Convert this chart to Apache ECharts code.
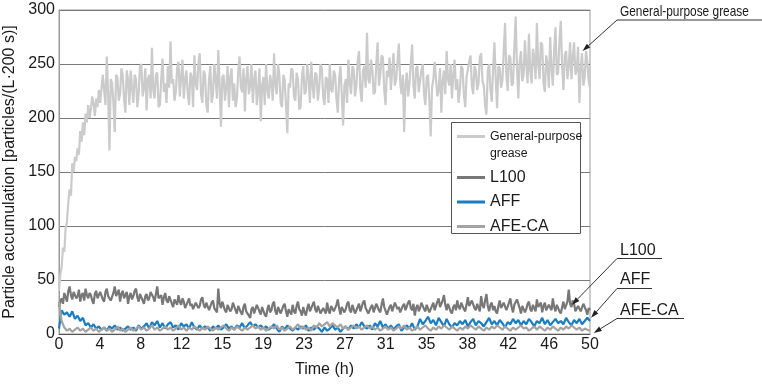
<!DOCTYPE html>
<html><head><meta charset="utf-8">
<script src="https://cdn.jsdelivr.net/npm/echarts@6/dist/echarts.min.js"></script>
<style>html,body{margin:0;padding:0;background:#fff}#c{width:762px;height:386px}</style>
</head><body><div id="c"></div>
<script>
// Sampling steps of the recorded series (hours)
const denseStep = 0.125;   // grease, L100
const coarseStep = 0.25;   // AFF, AFE-CA
const seriesNames = ['General-purpose grease', 'L100', 'AFF', 'AFE-CA'];
const yTicks = [0, 50, 100, 150, 200, 250, 300];

const greaseVals = [
40,55,62,80,76,98,104,122, 134,128,158,150,164,160,172,166,
188,178,196,184,204,196,212,200, 208,220,214,202,218,210,226,214,
215,240,226,212,257,222,170,236, 232,214,187,240,238,216,222,246,
240,218,205,244,236,212,244,228, 214,240,236,210,222,248,250,220,
228,246,207,236,240,218,265,226, 218,240,242,210,212,236,255,224,
232,214,248,228,271,232,236,216, 224,246,252,220,238,254,218,236,
244,222,212,242,238,210,258,232, 226,250,260,222,214,244,240,212,
205,236,248,214,222,250,236,218, 263,230,192,238,240,216,228,248,
210,238,246,216,232,210,218,242, 257,228,224,246,206,236,248,222,
230,250,214,236,244,212,225,246, 197,230,238,212,250,226,218,240,
232,216,260,230,222,250,240,214, 210,240,235,212,186,232,228,246,
244,220,216,242,236,208,210,238, 248,222,225,250,238,214,252,230,
218,242,240,216,228,250,246,220, 212,238,236,214,250,226,224,244,
240,218,205,236,248,222,193,230, 236,214,254,232,222,248,245,220,
230,252,262,226,215,244,248,228, 279,236,232,254,246,222,224,250,
270,230,240,258,256,226,212,244, 238,256,226,244,260,230,236,252,
269,234,222,240,187,232,242,220, 232,250,268,230,218,246,248,224,
225,244,250,222,212,238,240,216, 183,228,236,252,252,220,226,246,
205,234,244,222,262,236,230,250, 218,240,254,226,236,214,226,248,
246,222,210,238,238,252,258,230, 222,248,244,226,232,256,260,234,
230,212,203,244,250,226,215,246, 270,236,209,248,246,228,235,262,
288,240,225,258,256,230,232,266, 294,246,218,252,262,234,240,272,
250,232,278,244,232,264,256,236, 288,250,236,270,268,232,224,258,
250,228,275,246,230,262,284,240, 242,272,290,248,226,258,262,236,
248,270,236,256,270,240,244,266, 214,246,260,230,238,262,252,234,
228];

const l100Vals = [
25,30,33,28,38,34,30,40, 44,36,32,39,40,33,35,41,
30,36,38,31,42,36,33,38, 36,31,28,37,40,33,34,39,
38,32,30,39,42,35,35,31, 32,38,44,35,36,41,30,37,
40,33,34,39,28,35,38,32, 35,40,42,34,30,37,36,31,
28,35,37,31,33,39,40,34, 30,37,44,33,32,36,27,34,
38,31,29,35,34,28,25,32, 32,27,36,30,27,33,30,24,
24,30,33,26,28,23,22,29, 30,24,26,32,34,27,24,29,
28,22,22,29,31,24,25,20, 42,28,24,30,29,22,20,27,
27,21,23,29,30,22,19,26, 26,20,18,25,28,21,22,17,
15,23,25,19,20,27,28,21, 18,25,24,18,16,23,27,20,
22,28,30,21,18,25,25,19, 20,26,28,21,16,23,24,18,
27,21,19,26,30,23,21,17, 25,20,17,24,28,21,22,27,
30,23,20,26,26,19,18,24, 24,19,29,22,19,26,27,21,
21,27,32,24,18,25,26,20, 23,28,30,22,20,27,27,19,
19,25,28,21,22,29,31,24, 24,19,18,25,27,20,21,28,
29,22,20,27,33,25,24,18, 18,25,27,21,22,29,30,23,
25,20,19,26,28,22,23,29, 31,24,22,28,17,24,27,21,
24,29,30,23,21,27,26,20, 20,26,29,22,23,30,33,25,
26,31,36,27,22,28,28,21, 19,25,27,22,31,25,23,29,
28,23,21,27,34,26,25,31, 30,24,22,28,27,21,35,27,
24,31,37,26,21,27,29,22, 26,21,19,26,31,24,24,29,
28,22,22,29,33,25,20,27, 27,32,31,24,19,26,25,20,
23,28,30,23,21,27,27,21, 32,25,24,29,20,26,29,22,
22,27,28,22,33,25,21,27, 26,21,19,25,30,23,24,30,
41,28,25,31,28,21,20,26, 27,21,22,28,29,22,18,24,
22];

const affVals = [
5,22,18,20, 16,21,14,17, 12,15,8,10, 6,9,5,7,
4,6,3,7, 5,8,4,6, 3,5,7,4, 6,3,8,5,
7,10,5,11, 8,12,6,10, 5,9,11,6, 8,4,10,7,
9,5,11,6, 4,8,5,7, 6,3,7,5, 8,4,6,9,
5,7,4,8, 6,10,5,8, 11,7,9,6, 8,5,7,4,
6,9,5,2, 7,4,8,5, 3,6,4,7, 5,8,3,6,
4,7,5,2, 6,3,5,8, 4,6,2,5, 7,4,8,5,
9,6,11,7, 5,8,4,10, 7,12,6,9, 5,8,4,7,
9,3,6,8, 5,10,4,7, 14,9,12,16, 10,13,8,15,
11,7,14,9, 6,10,8,12, 9,13,7,11, 14,8,12,10,
7,11,15,9, 12,8,13,10, 6,11,9,14, 10,13,8,12,
9,14,11,7, 12,10,15,9, 13,8,11,14, 10,12,9,15,
11,8,13,10, 14,9,12,15, 12];

const afecaVals = [
30,12,6,3, 5,2,4,6, 3,5,2,4, 6,3,5,2,
4,6,3,5, 2,4,7,3, 5,2,4,6, 3,5,7,4,
6,3,5,8, 4,6,3,5, 7,4,6,3, 5,8,4,6,
3,6,4,7, 5,3,6,4, 7,5,3,6, 4,6,8,5,
3,6,4,7, 5,3,6,4, 6,8,5,7, 4,6,3,5,
7,5,8,4, 6,3,5,7, 4,6,9,5, 7,4,6,3,
8,6,10,7, 9,11,7,10, 8,6,9,5, 7,4,6,8,
5,7,4,6, 8,5,7,4, 6,3,5,7, 4,6,3,5,
7,5,8,4, 6,3,5,7, 4,6,8,5, 3,6,4,7,
5,8,6,4, 7,5,3,6, 4,7,5,8, 6,4,7,5,
3,6,4,7, 5,8,6,4, 7,5,3,6, 4,6,8,5,
6,3,5,7, 4,7,5,3, 6,4,7,5, 3,6,4,7,
5,8,6,4, 6,3,5,4, 3];

// annotation labels and the data point each arrow points at [time, value]
const annotations = [
  {text: 'General-purpose grease', tip: [49.3, 262]},
  {text: 'L100', tip: [48.3, 27]},
  {text: 'AFF', tip: [50.1, 15]},
  {text: 'AFE-CA', tip: [50.35, 1]}
];

const colors = ['#cbcbcb', '#777777', '#1b7dc1', '#a3a3a3'];
const FONT = "'Liberation Sans', Arial, sans-serif";

function toPairs(vals, step) { return vals.map((v, i) => [i * step, v]); }
const allVals = [greaseVals, l100Vals, affVals, afecaVals];
const steps = [denseStep, denseStep, coarseStep, coarseStep];

const chart = echarts.init(document.getElementById('c'), null, {renderer: 'canvas'});
const option = {
  animation: false,
  backgroundColor: '#fff',
  textStyle: {fontFamily: FONT},
  grid: {left: 59, right: 172, top: 10, bottom: 52, show: true, borderColor: '#9a9a9a', borderWidth: 1,
         containLabel: false, outerBoundsMode: 'none'},
  xAxis: {
    type: 'value', min: 0, max: 50, interval: 50 / 13,
    name: 'Time (h)', nameLocation: 'middle', nameGap: 28,
    nameTextStyle: {fontSize: 16, color: '#1a1a1a', fontFamily: FONT},
    axisLine: {show: true, onZero: false, lineStyle: {color: '#555', width: 1}},
    axisTick: {show: false},
    axisLabel: {fontSize: 16, color: '#1a1a1a', margin: 3, formatter: v => String(Math.round(v)), fontFamily: FONT},
    splitLine: {show: false}
  },
  yAxis: {
    type: 'value', min: yTicks[0], max: yTicks[yTicks.length - 1], interval: yTicks[1] - yTicks[0],
    name: 'Particle accumulation [particles/(L\u00b7200 s)]', nameLocation: 'middle', nameGap: 37,
    nameTextStyle: {fontSize: 16, color: '#1a1a1a', fontFamily: FONT},
    axisLine: {show: true, lineStyle: {color: '#9a9a9a'}},
    axisTick: {show: false},
    axisLabel: {fontSize: 16, color: '#1a1a1a', margin: 4, fontFamily: FONT},
    splitLine: {show: true, lineStyle: {color: '#7a7a7a', width: 1}}
  },
  legend: {
    orient: 'vertical', left: 457, top: 111, padding: 0, itemGap: 6.5,
    itemWidth: 28, itemHeight: 3, icon: 'rect', itemStyle: {borderWidth: 0},
    z: 10,
    textStyle: {fontSize: 16, color: '#1a1a1a', fontFamily: FONT, lineHeight: 18},
    data: [
      {name: seriesNames[0], textStyle: {fontSize: 12.3, fontFamily: FONT, lineHeight: 17}},
      {name: seriesNames[1]}, {name: seriesNames[2]}, {name: seriesNames[3]}
    ],
    formatter: n => n === seriesNames[0] ? ' \nGeneral-purpose\ngrease' : n
  },
  series: seriesNames.map((n, i) => ({
    name: n, type: 'line', data: toPairs(allVals[i], steps[i]), showSymbol: false, symbol: 'none',
    lineStyle: {color: colors[i], width: 2.2}, itemStyle: {color: colors[i]},
    z: 2 + i, silent: true
  }))
};
chart.setOption(option);

// annotation text layout (positions only)
const annoLayout = [
  {x: 620, y: 12, size: 14.5, sx: 0.82, ux0: 617, ux1: 762, uy: 20},
  {x: 620, y: 251, size: 16, sx: 1, ux0: 617, ux1: 662, uy: 258.5},
  {x: 620, y: 280, size: 16, sx: 1, ux0: 617, ux1: 652, uy: 288.5},
  {x: 620, y: 311, size: 16, sx: 1, ux0: 617, ux1: 684, uy: 318.5}
];
const g = [{type: 'rect', shape: {x: 451.5, y: 122.5, width: 129, height: 111}, style: {fill: '#fff', stroke: '#555', lineWidth: 1}, z: 5}];
annotations.forEach((a, i) => {
  const L = annoLayout[i];
  const tip = chart.convertToPixel({gridIndex: 0}, a.tip);
  const sx = L.ux0, sy = L.uy;
  const dx = tip[0] - sx, dy = tip[1] - sy, len = Math.hypot(dx, dy);
  const ux = dx / len, uy = dy / len, al = 8, aw = 2.6;
  const bx = tip[0] - ux * al, by = tip[1] - uy * al;
  g.push({type: 'text', x: L.x, y: L.y, scaleX: L.sx,
          style: {text: a.text, fontSize: L.size, fontFamily: FONT, fill: '#1a1a1a', verticalAlign: 'middle'}, z: 20});
  g.push({type: 'line', shape: {x1: L.ux0, y1: L.uy, x2: L.ux1, y2: L.uy}, style: {stroke: '#333', lineWidth: 1}, z: 20});
  g.push({type: 'line', shape: {x1: sx, y1: sy, x2: bx, y2: by}, style: {stroke: '#333', lineWidth: 1}, z: 20});
  g.push({type: 'polygon', shape: {points: [[tip[0], tip[1]], [bx - uy * aw, by + ux * aw], [bx + uy * aw, by - ux * aw]]}, style: {fill: '#222'}, z: 20});
});
chart.setOption({graphic: g});
</script></body></html>
